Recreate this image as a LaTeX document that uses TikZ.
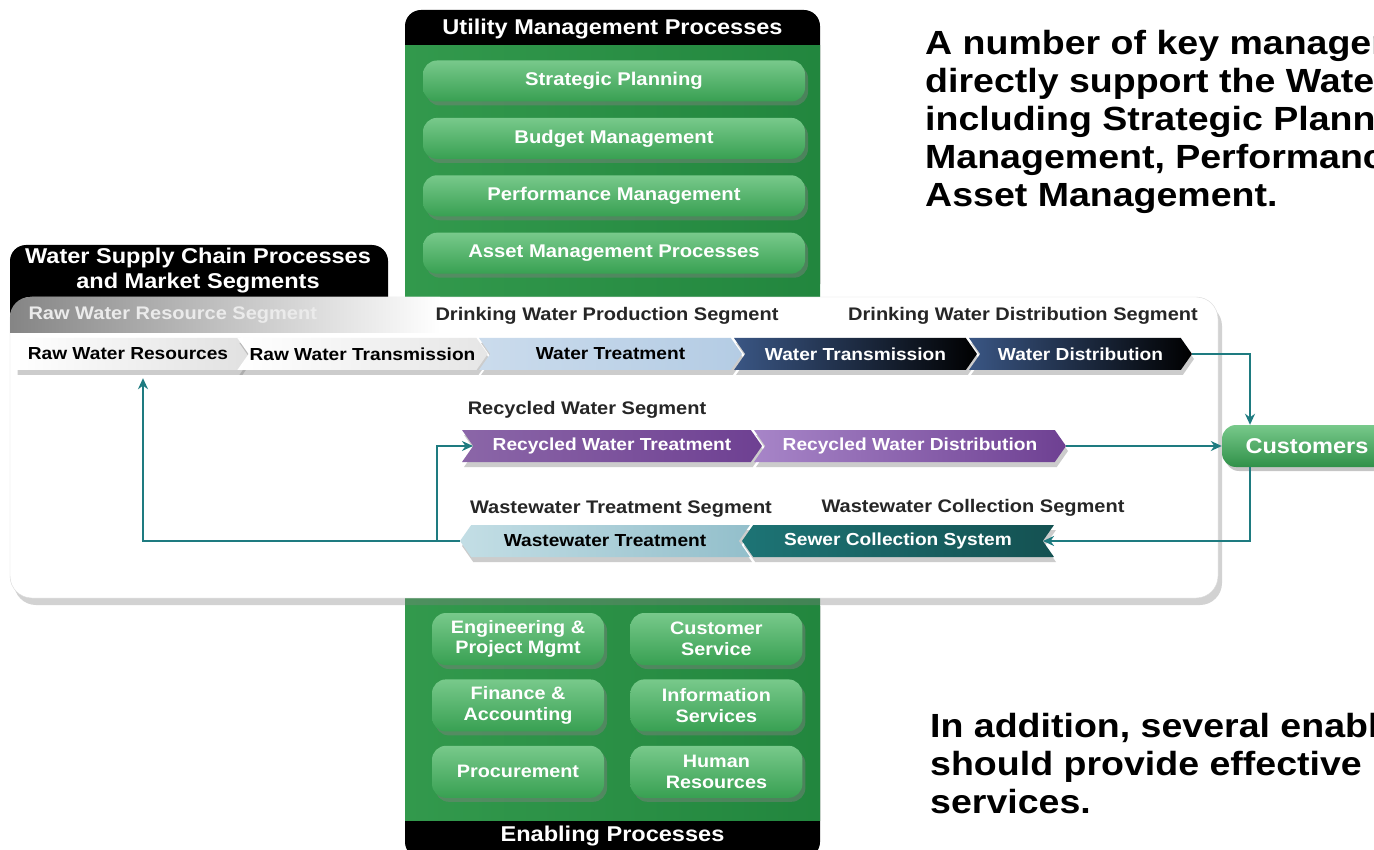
\documentclass[tikz,border=0pt]{standalone}
\usepackage{fontspec}
\setmainfont{Liberation Sans}[FakeStretch=1.1]
\newfontfamily\notefont{Liberation Sans}[FakeStretch=1.12]
\usetikzlibrary{arrows.meta,calc,positioning,shadows,shapes.symbols}
\definecolor{flowteal}{HTML}{1E7B80}
\definecolor{umgreen}{HTML}{38AA55}
\definecolor{umdark}{HTML}{22863E}
\definecolor{pilltop}{HTML}{78C98B}
\definecolor{pillbot}{HTML}{38A052}
\definecolor{navy}{HTML}{3A5684}
\definecolor{recpurple}{HTML}{6E4092}
\definecolor{reclight}{HTML}{A785C8}
\definecolor{wwlight}{HTML}{C3DEE5}
\definecolor{wwdark}{HTML}{93BFCB}
\definecolor{sewerteal}{HTML}{1D7475}
\definecolor{wtblue}{HTML}{B4CCE4}
\tikzset{
>={Stealth[length=11pt,width=10pt]},
pill node/.style={rectangle,rounded corners=14pt,minimum height=41pt,inner sep=2pt,text=white,align=center,
  font=\bfseries\fontsize{18.4}{20}\selectfont,top color=pilltop,bottom color=pillbot,
  drop shadow={opacity=.45,shadow xshift=3pt,shadow yshift=-4pt}},
chev base/.style={signal,signal pointer angle=110,minimum height=32pt,inner sep=1pt,
  font=\bfseries\fontsize{17.4}{19}\selectfont,drop shadow={opacity=.4,shadow xshift=2pt,shadow yshift=-5pt}},
chev node/.style={chev base,signal to=east,signal from=west},
back node/.style={chev base,signal to=west,signal from=east},
seg label/.style={font=\bfseries\fontsize{18.2}{20}\selectfont,text=black!85},
head label/.style={font=\bfseries\fontsize{21.4}{25}\selectfont,text=white,align=center},
note/.style={font=\notefont\bfseries\fontsize{33.5}{38}\selectfont,align=left,inner sep=0pt,anchor=north west},
flow/.style={->,draw=flowteal,line width=2.3pt}
}
\begin{document}
\begin{tikzpicture}[x=1pt,y=-1pt]
\useasboundingbox (0,0) rectangle (1374,850);
\fill[white] (0,0) rectangle (1374,850);
\clip (0,0) rectangle (1374,850);

% utility management
\fill[black,rounded corners=16pt] (405,10) rectangle (820,300);
\shade[left color=umgreen!90!black,middle color=umgreen,right color=umdark] (405,46) rectangle (820,300);
\node[head label] (umhead) at (612.5,29) {Utility Management Processes};
\node[pill node,minimum width=382pt] (strat) at (614,81) {Strategic Planning};
\node[pill node,minimum width=382pt,below=16pt of strat] (budget) {Budget Management};
\node[pill node,minimum width=382pt,below=16pt of budget] (perf) {Performance Management};
\node[pill node,minimum width=382pt,below=16pt of perf] (asset) {Asset Management Processes};

% enabling
\fill[black,rounded corners=16pt] (405,590) rectangle (820,858);
\shade[left color=umgreen!90!black,middle color=umgreen,right color=umdark] (405,590) rectangle (820,820);
\node[head label] (enhead) at (612.5,836) {Enabling Processes};
\tikzset{pill node/.append style={minimum width=172pt,minimum height=52pt,font=\bfseries\fontsize{18}{20.5}\selectfont}}
\node[pill node] (eng) at (518,639) {Engineering \&\\Project Mgmt};
\node[pill node,right=26pt of eng] (custserv) {Customer\\Service};
\node[pill node,below=14pt of eng] (fin) {Finance \&\\Accounting};
\node[pill node,right=26pt of fin] (info) {Information\\Services};
\node[pill node,below=14pt of fin] (proc) {Procurement};
\node[pill node,right=26pt of proc] (hr) {Human\\Resources};

% supply chain
\fill[black,rounded corners=16pt] (10,245) rectangle (388,330);
\node[head label] (schead) at (198,271) {Water Supply Chain Processes\\and Market Segments};
\fill[white,draw=black!15,rounded corners=22pt,drop shadow={opacity=.35,shadow xshift=4pt,shadow yshift=-7pt}] (10,297) rectangle (1218,598);
\shade[left color=black!48,middle color=black!30,right color=white] (440,333) -- (10,333) [rounded corners=20pt] -- (10,297) [sharp corners] -- (440,297) -- cycle;

\node[seg label,text=black!8,anchor=west] (rwseg) at (25,315) {Raw Water Resource Segment};
\node[seg label] (dpseg) at (607,316) {Drinking Water Production Segment};
\node[seg label] (ddseg) at (1023,316) {Drinking Water Distribution Segment};
\node[seg label] (rcseg) at (587,410) {Recycled Water Segment};
\node[seg label] (wtseg) at (621,509) {Wastewater Treatment Segment};
\node[seg label] (wcseg) at (973,508) {Wastewater Collection Segment};

\node[chev base,signal to=east,minimum width=236pt,left color=white,right color=black!12] (rwres) at (128,354) {Raw Water Resources};
\node[chev node,minimum width=249pt,left color=white,right color=black!10] (rwtrans) at (362.5,354) {Raw Water Transmission};
\node[chev node,minimum width=263pt,left color=wtblue!70,right color=wtblue] (wtreat) at (610.5,354) {Water Treatment};
\node[chev node,minimum width=243pt,left color=navy,right color=black,text=white] (wtrans) at (855.5,354) {Water Transmission};
\node[chev node,minimum width=223pt,left color=navy,right color=black,text=white] (wdist) at (1080.5,354) {Water Distribution};

\node[chev node,minimum width=300pt,left color=recpurple!80,right color=recpurple,text=white] (rwtreat) at (612,446) {Recycled Water Treatment};
\node[chev node,minimum width=312pt,left color=reclight,right color=recpurple,text=white] (rwdist) at (910,446) {Recycled Water Distribution};

\node[back node,minimum width=290pt,left color=wwlight,right color=wwdark] (wwtreat) at (605,541) {Wastewater Treatment};
\node[back node,minimum width=312pt,left color=sewerteal,right color=sewerteal!70!black,text=white] (sewer) at (898,541) {Sewer Collection System};

\node[pill node,minimum width=170pt,minimum height=42pt,font=\bfseries\fontsize{21.4}{22}\selectfont,top color=pilltop,bottom color=umgreen!85!black] (cust) at (1307,446) {Customers};

\draw[flow] (wdist.east) -| ([xshift=-57pt]cust.north);
\draw[flow] (rwdist.east) -- (cust.west);
\draw[flow] ([xshift=-57pt]cust.south) |- (sewer.east);
\draw[flow,shorten >=8pt] (wwtreat.west) -| ([xshift=15pt]rwres.south);
\coordinate (split) at ($(wwtreat.west)+(-23,0)$);
\draw[flow] (split) |- (rwtreat.west);

% notes
\node[note] (mgmtnote) at (925,30) {A number of key management\\directly support the Water\\including Strategic Planning\\Management, Performance\\Asset Management.};
\node[note] (ennote) at (930,713) {In addition, several enabling\\should provide effective\\services.};
\end{tikzpicture}
\end{document}
